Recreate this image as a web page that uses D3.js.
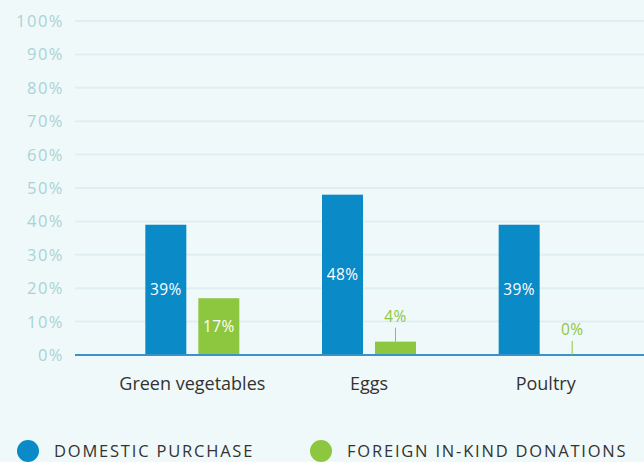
<!DOCTYPE html>
<html>
<head>
<meta charset="utf-8">
<script src="https://cdn.jsdelivr.net/npm/d3@7"></script>
<style>
  body { margin: 0; background: #f0f9f9; }
  svg { display: block; font-family: "Open Sans", Lato, sans-serif; }
</style>
</head>
<body>
<div id="chart"></div>
<script>
const categories = ['Green vegetables', 'Eggs', 'Poultry'];
const seriesNames = ['DOMESTIC PURCHASE', 'FOREIGN IN-KIND DONATIONS'];
const domestic = [39, 48, 39];
const foreign = [17, 4, 0];
const yTicks = [0, 10, 20, 30, 40, 50, 60, 70, 80, 90, 100];
const colors = ['#0a8ac6', '#8dc63f'];

const chartWidth = 644;
const chartHeight = 462;

const chart = d3.select('#chart')
  .append('svg')
  .attr('width', chartWidth)
  .attr('height', chartHeight);

//Scales
const yScale = d3.scaleLinear()
  .domain([0, 100])
  .range([355, 21]);

const xScale = d3.scaleBand()
  .domain(categories)
  .range([104, 634]);

const subScale = d3.scaleBand()
  .domain([0, 1])
  .range([-47, 47])
  .paddingInner(12 / 53);

//Gridlines + y labels
const grid = chart.append('g');
grid.selectAll('line')
  .data(yTicks.filter(d => d > 0))
  .enter()
  .append('line')
  .attr('x1', 75)
  .attr('x2', chartWidth)
  .attr('y1', d => yScale(d))
  .attr('y2', d => yScale(d))
  .attr('stroke', '#dfeff1')
  .attr('stroke-width', 2);

grid.selectAll('text')
  .data(yTicks)
  .enter()
  .append('text')
  .text(d => d + '%')
  .attr('x', 64)
  .attr('y', d => yScale(d))
  .attr('dy', '0.36em')
  .attr('text-anchor', 'end')
  .style('font-size', '16.5px')
  .style('letter-spacing', '1.5px')
  .style('fill', '#a8d3d7');

//Bars
const rows = categories.map((c, i) => [
  {cat: c, s: 0, v: domestic[i]},
  {cat: c, s: 1, v: foreign[i]}
]).flat();

const barX = d => xScale(d.cat) + xScale.bandwidth() / 2 + subScale(d.s);

chart.append('g')
  .selectAll('rect')
  .data(rows)
  .enter()
  .append('rect')
  .attr('x', barX)
  .attr('y', d => yScale(d.v))
  .attr('width', subScale.bandwidth())
  .attr('height', d => yScale(0) - yScale(d.v))
  .attr('fill', d => colors[d.s]);

//Baseline
chart.append('line')
  .attr('x1', 75)
  .attr('x2', chartWidth)
  .attr('y1', yScale(0))
  .attr('y2', yScale(0))
  .attr('stroke', '#3a93c8')
  .attr('stroke-width', 2);

//Value labels
const labels = chart.append('g');
rows.forEach(d => {
  const cx = barX(d) + subScale.bandwidth() / 2;
  if (d.v >= 10) {
    labels.append('text')
      .text(d.v + '%')
      .attr('x', cx)
      .attr('y', (yScale(d.v) + yScale(0)) / 2)
      .attr('dy', '0.36em')
      .attr('text-anchor', 'middle')
      .style('font-size', '15.5px')
      .style('letter-spacing', '0.4px')
      .style('fill', '#fff');
  } else {
    const top = yScale(d.v);
    labels.append('line')
      .attr('x1', cx).attr('x2', cx)
      .attr('y1', top).attr('y2', top - 14)
      .attr('stroke', colors[d.s])
      .attr('stroke-width', 1);
    labels.append('text')
      .text(d.v + '%')
      .attr('x', cx)
      .attr('y', top - 20)
      .attr('text-anchor', 'middle')
      .style('font-size', '15.5px')
      .style('letter-spacing', '0.4px')
      .style('fill', colors[d.s]);
  }
});

//Category labels
chart.append('g')
  .selectAll('text')
  .data(categories)
  .enter()
  .append('text')
  .text(d => d)
  .attr('x', d => xScale(d) + xScale.bandwidth() / 2)
  .attr('y', 390)
  .attr('text-anchor', 'middle')
  .style('font-size', '18px')
  .style('fill', '#333');

//Legend
const legendX = [28, 321];
const legend = chart.append('g')
  .selectAll('g')
  .data(seriesNames)
  .enter()
  .append('g')
  .attr('transform', (d, i) => `translate(${legendX[i]}, 451)`);

legend.append('circle')
  .attr('r', 11)
  .attr('fill', (d, i) => colors[i]);

legend.append('text')
  .text(d => d)
  .attr('x', 26)
  .attr('y', 6)
  .style('font-size', '16.5px')
  .style('letter-spacing', '1.8px')
  .style('fill', '#333');
</script>
</body>
</html>
